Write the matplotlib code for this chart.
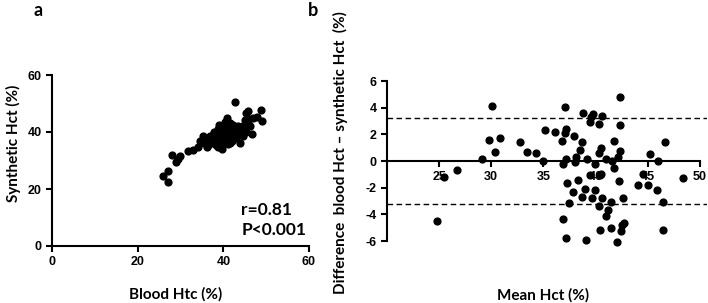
import numpy as np
import matplotlib.pyplot as plt

plt.rcParams['axes.unicode_minus'] = False

# panel a: blood vs synthetic haematocrit
blood_htc = [26.0, 27.0, 27.0, 28.0, 29.9, 29.0, 29.5, 31.8, 33.0, 34.2, 34.6, 35.3,
             36.1, 36.9, 38.4, 39.2, 39.8, 38.8, 39.8, 40.8, 41.6, 41.6, 42.7, 42.3,
             43.9, 44.3, 45.0, 45.4, 45.8, 47.0, 48.9, 49.0, 46.8, 47.8,
             35.5, 36.5, 37.0, 37.5, 37.8, 38.0, 38.5, 38.7, 39.0, 39.3, 39.5, 39.7,
             40.0, 40.2, 40.5, 40.7, 41.0, 41.2, 41.5, 41.8, 42.0, 42.2, 42.5, 42.8,
             43.0, 43.3, 43.5, 43.8, 44.0, 44.5, 44.8, 45.2, 45.5, 46.0, 46.3, 37.2,
             38.2, 40.0, 41.0, 42.0, 36.0, 40.3, 39.0, 37.5]
synthetic_hct = [24.7, 26.4, 22.4, 32.0, 31.7, 29.3, 30.5, 33.2, 33.8, 34.9, 36.7, 38.5,
                 34.9, 37.3, 39.6, 40.8, 42.0, 34.9, 34.1, 44.9, 43.1, 36.1, 50.5, 40.8,
                 36.1, 40.2, 44.3, 46.7, 47.5, 44.9, 47.7, 43.7, 39.2, 45.3,
                 36.0, 35.5, 38.5, 37.0, 40.0, 38.0, 37.5, 41.0, 39.0, 37.5, 40.0, 38.5,
                 41.5, 39.5, 38.0, 40.5, 42.0, 39.0, 41.0, 38.5, 40.0, 42.5, 39.0, 41.5,
                 38.0, 40.5, 42.0, 39.5, 41.0, 38.5, 42.5, 40.0, 43.5, 44.5, 42.0, 36.0,
                 35.5, 36.5, 35.8, 37.0, 37.5, 43.5, 42.5, 39.0]

# panel b: Bland-Altman
mean_hct = [24.84, 25.48, 26.75, 29.16, 30.11, 29.83, 30.4, 30.88, 32.75, 33.39, 34.34,
            35.0, 35.17, 36.12, 37.04, 36.75, 37.17, 37.1, 36.88, 37.13, 37.23, 37.48,
            36.88, 37.2, 37.93, 37.99, 38.18, 37.87, 38.34, 38.5, 38.72, 38.82, 38.72,
            38.95, 39.14, 39.1, 39.45, 39.6, 39.77, 39.52, 39.93, 39.93, 39.64, 40.34,
            40.66, 40.34, 40.5, 40.4, 40.56, 40.66, 40.34, 41.04, 41.23, 41.0, 40.47,
            41.52, 41.58, 41.74, 41.77, 41.52, 42.03, 42.15, 42.38, 42.38, 42.38, 42.28,
            42.63, 42.69, 42.57, 42.41, 44.06, 44.54, 45.08, 45.27, 45.9, 46.03, 46.47,
            46.7, 46.44, 48.35]
diff_hct = [-4.48, -1.2, -0.65, 0.18, 4.13, 1.58, 0.68, 1.73, 1.4, 0.7, 0.63,
            0.0, 2.3, 2.2, 4.05, 1.5, 2.38, 2.1, -0.2, 0.18, -1.65, -3.13,
            -4.35, -5.75, 1.85, -0.1, 0.3, -2.33, -1.45, 0.85, 1.43, 3.6, -2.7,
            -2.08, 0.18, -5.9, 2.93, 3.3, 3.55, -1.08, -0.25, -2.2, -2.75, 2.75,
            3.38, 0.6, 1.0, -1.08, -1.0, -2.75, -3.38, 0.18, -3.65, -4.13, -5.15,
            -3.08, 0.0, 1.48, -0.5, -5.03, -6.05, 0.3, 4.8, 2.73, 0.78, -1.48,
            -2.8, -4.65, -4.83, -5.28, -1.83, -0.95, -1.83, 0.5, -2.2, 0.03, -3.08,
            1.4, -5.2, -1.3]
loa = 3.25

tickfont = dict(family='Liberation Sans', weight='bold', size=9)
labfont = dict(family='Lato', weight='bold', size=11)

fig = plt.figure(figsize=(7.08, 3.03), dpi=100)

# ---- a ----
ax1 = fig.add_axes([52/708, 1-246/303, 257/708, 171/303])
ax1.scatter(blood_htc, synthetic_hct, s=24, color='black', zorder=3, clip_on=False)
ax1.set_xlim(0, 60)
ax1.set_ylim(0, 60)
ax1.set_xticks([0, 20, 40, 60])
ax1.set_yticks([0, 20, 40, 60])
for sp in ['top', 'right']:
    ax1.spines[sp].set_visible(False)
for sp in ['left', 'bottom']:
    ax1.spines[sp].set_linewidth(1.5)
ax1.tick_params(width=1.5, length=4)
for lab in ax1.get_xticklabels() + ax1.get_yticklabels():
    lab.set_fontproperties(tickfont)
ax1.text(44.2, 12.6, 'r=0.81', fontsize=12.5, fontweight='bold', family='Lato', va='center')
ax1.text(44.2, 5.6, 'P<0.001', fontsize=12.5, fontweight='bold', family='Lato', va='center')
fig.text(176/708, 1-294/303, 'Blood Htc (%)', ha='center', va='center', **labfont)
fig.text(13/708, 1-143/303, 'Synthetic Hct (%)', ha='center', va='center', rotation=90, **labfont)
fig.text(38/708, 1-10/303, 'a', ha='center', va='center', family='Lato', weight='bold', size=13)

# ---- b ----
ax2 = fig.add_axes([387/708, 1-241/303, 320/708, 160/303])
ax2.scatter(mean_hct, diff_hct, s=24, color='black', zorder=3, clip_on=False)
ax2.axhline(loa, color='black', lw=1, ls=(0, (4, 2.5)))
ax2.axhline(-loa, color='black', lw=1, ls=(0, (4, 2.5)))
ax2.set_xlim(20, 50.7)
ax2.set_ylim(-6, 6)
ax2.set_xticks([25, 30, 35, 40, 45, 50])
ax2.set_yticks([-6, -4, -2, 0, 2, 4, 6])
ax2.spines['bottom'].set_position(('data', 0))
ax2.spines['bottom'].set_bounds(20, 50)
for sp in ['top', 'right']:
    ax2.spines[sp].set_visible(False)
for sp in ['left', 'bottom']:
    ax2.spines[sp].set_linewidth(1.5)
ax2.tick_params(width=1.5, length=4)
for lab in ax2.get_xticklabels() + ax2.get_yticklabels():
    lab.set_fontproperties(tickfont)
fig.text(543/708, 1-295/303, 'Mean Hct (%)', ha='center', va='center', **labfont)
fig.text(340/708, 1-153/303, 'Difference  blood Hct \u2013 synthetic Hct  (%)', ha='center',
         va='center', rotation=90, **labfont)
fig.text(313/708, 1-10/303, 'b', ha='center', va='center', family='Lato', weight='bold', size=13)

fig.savefig('out.png', dpi=100)
